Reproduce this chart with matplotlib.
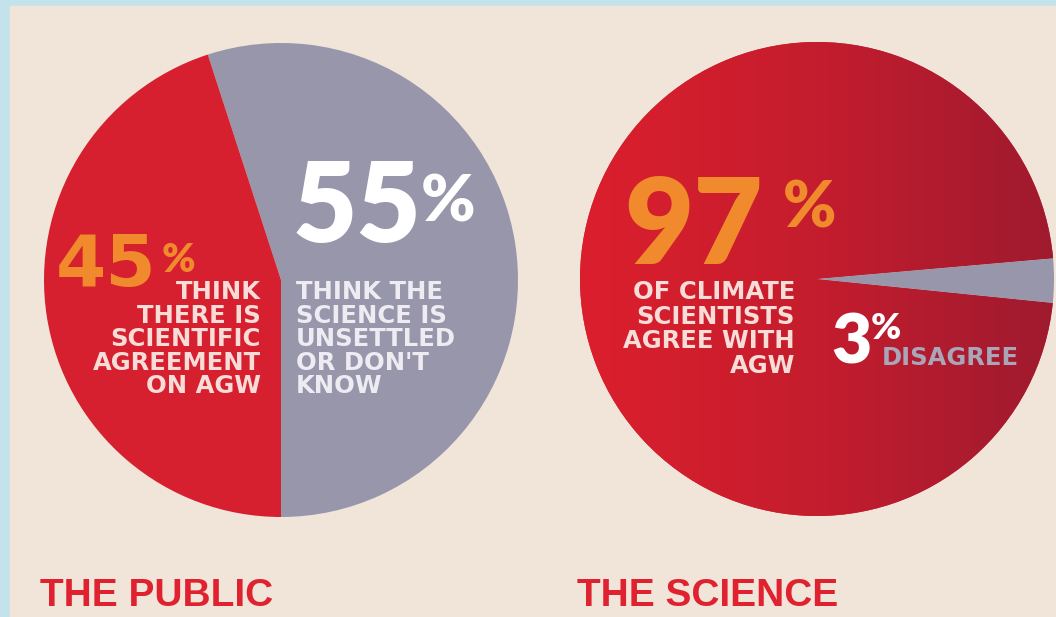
import numpy as np
import matplotlib.pyplot as plt
from matplotlib.patches import Rectangle
from matplotlib.colors import LinearSegmentedColormap

# data
public_labels = ['unsettled / don\'t know', 'scientific agreement']
public_values = [55, 45]
science_labels = ['disagree', 'agree']
science_values = [3, 97]

H = 617  # image height in px, used to flip y

red = '#d61f2f'
grey = '#9896ab'
orange = '#f08a2c'
beige = '#f1e4d8'
title_red = '#e0212f'

fig = plt.figure(figsize=(10.56, 6.17), dpi=100)
fig.patch.set_facecolor('#c3e2eb')
ax = fig.add_axes([0, 0, 1, 1])

def y(v):
    return H - v

# light blue frame, beige panel
ax.add_patch(Rectangle((10, 0), 1056, y(6), color=beige, zorder=0))

# the public
ax.pie(public_values, colors=[grey, red], startangle=-90, center=(281, y(280)),
       radius=237, wedgeprops=dict(linewidth=0))

# the science, red slice gets a left-to-right gradient
wedges, _ = ax.pie(science_values, colors=[grey, red], startangle=-5.8,
                   center=(817, y(279)), radius=237, wedgeprops=dict(linewidth=0))
grad = np.linspace(0, 1, 256).reshape(1, -1)
cmap = LinearSegmentedColormap.from_list('r', ['#dc1f2d', '#c41d2e', '#9f1a2f'])
im = ax.imshow(grad, cmap=cmap, extent=(580, 1054, y(516), y(42)), aspect='auto', zorder=2)
im.set_clip_path(wedges[1])
wedges[0].set_zorder(3)

ax.set_xlim(0, 1056)
ax.set_ylim(0, H)
ax.axis('off')

big = dict(family='Lato', weight='heavy', zorder=5)
body = dict(family='DejaVu Sans', weight='bold', zorder=5, fontsize=17.5)

# left pie text
ax.text(293, y(242), '55', color='white', fontsize=80, **big)
ax.text(421, y(222), '%', color='white', fontsize=47, **big)
ax.text(56, y(286), '45', color=orange, fontsize=52, family='DejaVu Sans',
        weight='bold', zorder=5)
ax.text(162, y(272), '%', color=orange, fontsize=29, **big)
ax.text(261, y(393), 'THINK\nTHERE IS\nSCIENTIFIC\nAGREEMENT\nON AGW',
        color='#f7dcd8', ha='right', va='baseline', multialignment='right',
        linespacing=0.97, **body)
ax.text(296, y(393), 'THINK THE\nSCIENCE IS\nUNSETTLED\nOR DON\'T\nKNOW',
        color='#eeecf2', ha='left', va='baseline', linespacing=0.97, **body)

# right pie text
ax.text(624, y(264), '97', color=orange, fontsize=86, **big)
ax.text(783, y(228), '%', color=orange, fontsize=46, **big)
ax.text(795, y(373), 'OF CLIMATE\nSCIENTISTS\nAGREE WITH\nAGW',
        color='#f7dcd8', ha='right', va='baseline', multialignment='right',
        linespacing=1.03, **body)
ax.text(831, y(363), '3', color='white', fontsize=50, **big)
ax.text(871, y(339), '%', color='white', fontsize=26, **big)
ax.text(882, y(365), 'DISAGREE', color='#aaa6ba', **body)

# titles
title = dict(family=['Liberation Sans Narrow', 'Liberation Sans'], weight='bold',
             color=title_red, fontsize=28, zorder=5)
ax.text(40, y(606), 'THE PUBLIC', **title)
ax.text(577, y(606), 'THE SCIENCE', **title)

fig.savefig('out.png', dpi=100, facecolor=fig.get_facecolor())
